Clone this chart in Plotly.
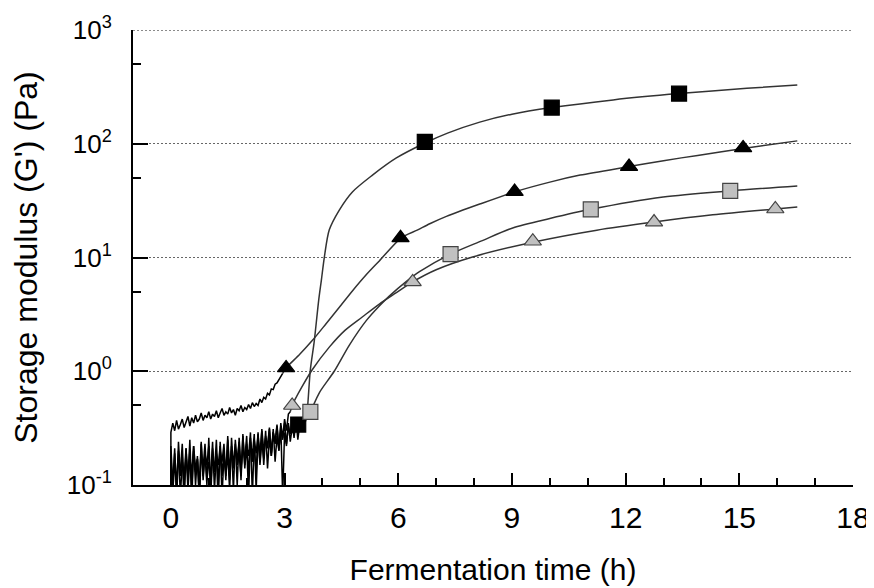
import plotly.graph_objects as go

# shared time grid for the noisy start of the measurements (h)
NOISE_T = [0.0, 0.0, 0.05, 0.10, 0.15, 0.20, 0.25, 0.30, 0.35, 0.40, 0.45,
           0.50, 0.55, 0.60, 0.65, 0.70, 0.75, 0.80, 0.85, 0.90, 0.95,
           1.00, 1.05, 1.10, 1.15, 1.20, 1.25, 1.30, 1.35, 1.40, 1.45,
           1.50, 1.55, 1.60, 1.65, 1.70, 1.75, 1.80, 1.85, 1.90, 1.95,
           2.00, 2.05, 2.10, 2.15, 2.20, 2.25, 2.30, 2.35, 2.40, 2.45,
           2.50, 2.55, 2.60, 2.65, 2.70, 2.75, 2.80, 2.85, 2.90, 2.95,
           3.00, 3.05, 3.10, 3.15, 3.20, 3.25, 3.30, 3.35, 3.40, 3.45,
           3.50, 3.55]

# black squares
A_NOISE = [0.05, 0.22, 0.10, 0.19, 0.08, 0.24, 0.12, 0.18, 0.07, 0.21, 0.11,
           0.25, 0.09, 0.20, 0.13, 0.17, 0.08, 0.23, 0.12, 0.19, 0.10,
           0.26, 0.09, 0.21, 0.14, 0.18, 0.07, 0.24, 0.12, 0.20, 0.11,
           0.27, 0.13, 0.22, 0.09, 0.25, 0.15, 0.19, 0.12, 0.28, 0.14,
           0.23, 0.08, 0.26, 0.16, 0.21, 0.13, 0.29, 0.15, 0.24, 0.17,
           0.30, 0.14, 0.26, 0.18, 0.31, 0.16, 0.27, 0.20, 0.33, 0.08,
           0.29, 0.22, 0.35, 0.24, 0.32, 0.27, 0.38, 0.25, 0.34, 0.30,
           0.40, 0.36]
A_FIT_T = [3.55, 3.6, 3.68, 3.78, 3.9, 3.97, 4.05, 4.18, 4.44, 4.79, 5.32,
           5.95, 6.72, 7.3, 8.15, 9.0, 10.05, 11.67, 13.41, 15.2, 16.53]
A_FIT_G = [0.36, 0.46, 1.03, 1.8, 4.2, 6.3, 10.1, 17.5, 26, 37.7, 53,
           75, 102, 124, 155, 182, 208, 243, 276, 307, 328]
A_MK_T = [3.36, 6.7, 10.05, 13.41]
A_MK_G = [0.34, 104, 208, 276]

# black triangles
B_NOISE = [0.06, 0.29, 0.35, 0.30, 0.37, 0.31, 0.34, 0.38, 0.32, 0.36, 0.40,
           0.33, 0.39, 0.35, 0.41, 0.36, 0.38, 0.43, 0.37, 0.41, 0.39,
           0.44, 0.38, 0.42, 0.40, 0.45, 0.39, 0.43, 0.47, 0.41, 0.44,
           0.42, 0.48, 0.43, 0.46, 0.41, 0.47, 0.45, 0.50, 0.44, 0.48,
           0.46, 0.51, 0.47, 0.53, 0.49, 0.52, 0.50, 0.57, 0.53, 0.59,
           0.57, 0.64, 0.62, 0.70, 0.69, 0.77, 0.79, 0.84, 0.89, 0.96]
B_FIT_T = [2.95, 3.04, 3.4, 3.73, 4.1, 4.44, 4.8, 5.16, 5.5, 6.08, 6.5,
           6.83, 7.27, 8.15, 9.1, 10.0, 10.8, 12.09, 13.0, 13.9, 15.1, 16.53]
B_FIT_G = [0.96, 1.07, 1.41, 1.86, 2.63, 3.63, 5.13, 7.08, 9.33, 14.9, 17.4,
           19.8, 23, 29.5, 38, 46, 53, 63, 71, 79, 91, 106]
B_MK_T = [3.04, 6.06, 9.07, 12.09, 15.1]
B_MK_G = [1.07, 14.9, 38, 63, 92]

# grey squares
C_NOISE = [0.05, 0.16, 0.10, 0.21, 0.08, 0.17, 0.13, 0.23, 0.09, 0.18, 0.12,
           0.20, 0.07, 0.22, 0.14, 0.17, 0.10, 0.24, 0.11, 0.19, 0.15,
           0.22, 0.08, 0.18, 0.13, 0.25, 0.10, 0.20, 0.16, 0.23, 0.12,
           0.19, 0.09, 0.26, 0.14, 0.21, 0.17, 0.24, 0.11, 0.27, 0.15,
           0.22, 0.18, 0.29, 0.08, 0.25, 0.19, 0.28, 0.16, 0.31, 0.20,
           0.26, 0.22, 0.32, 0.19, 0.29, 0.24, 0.34, 0.21, 0.30, 0.25,
           0.35, 0.23, 0.33, 0.28, 0.37, 0.26, 0.36, 0.31, 0.39, 0.33,
           0.40, 0.37]
C_FIT_T = [3.55, 3.68, 3.92, 4.31, 4.71, 5.16, 5.5, 5.77, 6.2, 6.56, 7.38,
           8.2, 9.02, 10.0, 11.08, 12.99, 14.76, 16.53]
C_FIT_G = [0.37, 0.44, 0.65, 1.0, 1.7, 2.8, 3.75, 4.6, 6.1, 7.5, 10.7,
           14.0, 18.2, 22.0, 26.5, 34, 38.5, 42.5]
C_MK_T = [3.68, 7.38, 11.08, 14.76]
C_MK_G = [0.44, 10.7, 26.5, 38.5]

# grey triangles
D_NOISE = [0.04, 0.18, 0.09, 0.15, 0.11, 0.20, 0.08, 0.16, 0.12, 0.21, 0.09,
           0.17, 0.13, 0.22, 0.10, 0.18, 0.07, 0.19, 0.14, 0.23, 0.11,
           0.16, 0.12, 0.24, 0.09, 0.19, 0.15, 0.22, 0.08, 0.18, 0.13,
           0.25, 0.11, 0.20, 0.16, 0.23, 0.10, 0.26, 0.14, 0.21, 0.17,
           0.27, 0.12, 0.24, 0.18, 0.28, 0.09, 0.25, 0.19, 0.30, 0.15,
           0.27, 0.21, 0.31, 0.18, 0.29, 0.23, 0.33, 0.20, 0.35, 0.26,
           0.38, 0.30, 0.42, 0.44]
D_FIT_T = [3.15, 3.2, 3.45, 3.73, 4.18, 4.6, 5.05, 5.5, 5.95, 6.38, 7.0,
           7.96, 9.58, 11.24, 12.75, 14.3, 15.95, 16.53]
D_FIT_G = [0.44, 0.50, 0.72, 1.03, 1.63, 2.3, 3.0, 3.9, 4.9, 6.1, 7.8,
           10.1, 13.7, 17.4, 20.5, 23.7, 26.7, 27.8]
D_MK_T = [3.2, 6.38, 9.55, 12.75, 15.95]
D_MK_G = [0.50, 6.1, 13.9, 20.5, 26.7]

Y_TICKS = [0.1, 1, 10, 100, 1000]
Y_TICKTEXT = ["10<sup>-1</sup>", "10<sup>0</sup>", "10<sup>1</sup>",
              "10<sup>2</sup>", "10<sup>3</sup>"]
Y_MINOR = [0.5, 5, 50, 500]
X_TICKS = [0, 3, 6, 9, 12, 15, 18]

FONT = "Liberation Sans, Arial, sans-serif"
GRID = dict(color="#666666", width=1.3, dash="2px,2px")

series = [
    (A_NOISE, A_FIT_T, A_FIT_G, A_MK_T, A_MK_G, "square", "black", "black"),
    (B_NOISE, B_FIT_T, B_FIT_G, B_MK_T, B_MK_G, "triangle-up", "black", "black"),
    (C_NOISE, C_FIT_T, C_FIT_G, C_MK_T, C_MK_G, "square", "#c0c0c0", "#444444"),
    (D_NOISE, D_FIT_T, D_FIT_G, D_MK_T, D_MK_G, "triangle-up", "#c0c0c0", "#444444"),
]

fig = go.Figure()

for noise, fit_t, fit_g, mk_t, mk_g, symbol, fill, edge in series:
    n = len(noise)
    fig.add_trace(go.Scatter(
        x=NOISE_T[:n], y=noise, mode="lines",
        line=dict(color="black", width=1.5), showlegend=False))
    fig.add_trace(go.Scatter(
        x=fit_t, y=fit_g, mode="lines",
        line=dict(color="#333333", width=1.5, shape="spline", smoothing=0.8),
        showlegend=False))

for noise, fit_t, fit_g, mk_t, mk_g, symbol, fill, edge in series:
    fig.add_trace(go.Scatter(
        x=mk_t, y=mk_g, mode="markers",
        marker=dict(symbol=symbol, size=15, color=fill,
                    line=dict(color=edge, width=1.2)),
        showlegend=False, cliponaxis=False))

# dotted line at the top decade (plotly skips the grid line on the plot edge)
fig.add_shape(type="line", xref="paper", yref="y", x0=0, x1=1,
              y0=1000, y1=1000, line=GRID, layer="below")

fig.update_xaxes(
    range=[-1, 18], tickvals=X_TICKS, automargin=False,
    ticklabelstandoff=5,
    showline=True, linecolor="black", linewidth=2, mirror=False,
    ticks="inside", ticklen=12, tickwidth=2, tickcolor="black",
    minor=dict(ticks="inside", dtick=1, tick0=0, ticklen=7, tickwidth=2,
               tickcolor="black"),
    showgrid=False, zeroline=False,
    tickfont=dict(size=30, family=FONT, color="black"),
    title=dict(text="Fermentation time (h)", standoff=26,
               font=dict(size=30, family=FONT, color="black")),
)

fig.update_yaxes(
    type="log", range=[-1, 3], tickvals=Y_TICKS, ticktext=Y_TICKTEXT,
    automargin=False, ticklabelstandoff=14,
    showline=True, linecolor="black", linewidth=2, mirror=False,
    ticks="inside", ticklen=15, tickwidth=2, tickcolor="black",
    minor=dict(ticks="inside", tickvals=Y_MINOR, ticklen=8,
               tickwidth=2, tickcolor="black", showgrid=False),
    showgrid=True, gridcolor=GRID["color"], gridwidth=GRID["width"],
    griddash=GRID["dash"], zeroline=False,
    tickfont=dict(size=26, family=FONT, color="black"),
    title=dict(text="Storage modulus (G') (Pa)", standoff=24,
               font=dict(size=32, family=FONT, color="black")),
)

# the page adds an 8px body margin, so the figure is a little smaller
fig.update_layout(
    width=866, height=580,
    margin=dict(l=125, r=21, t=22, b=103, autoexpand=False),
    plot_bgcolor="white", paper_bgcolor="white",
    showlegend=False,
)

fig.write_html("out.html")
